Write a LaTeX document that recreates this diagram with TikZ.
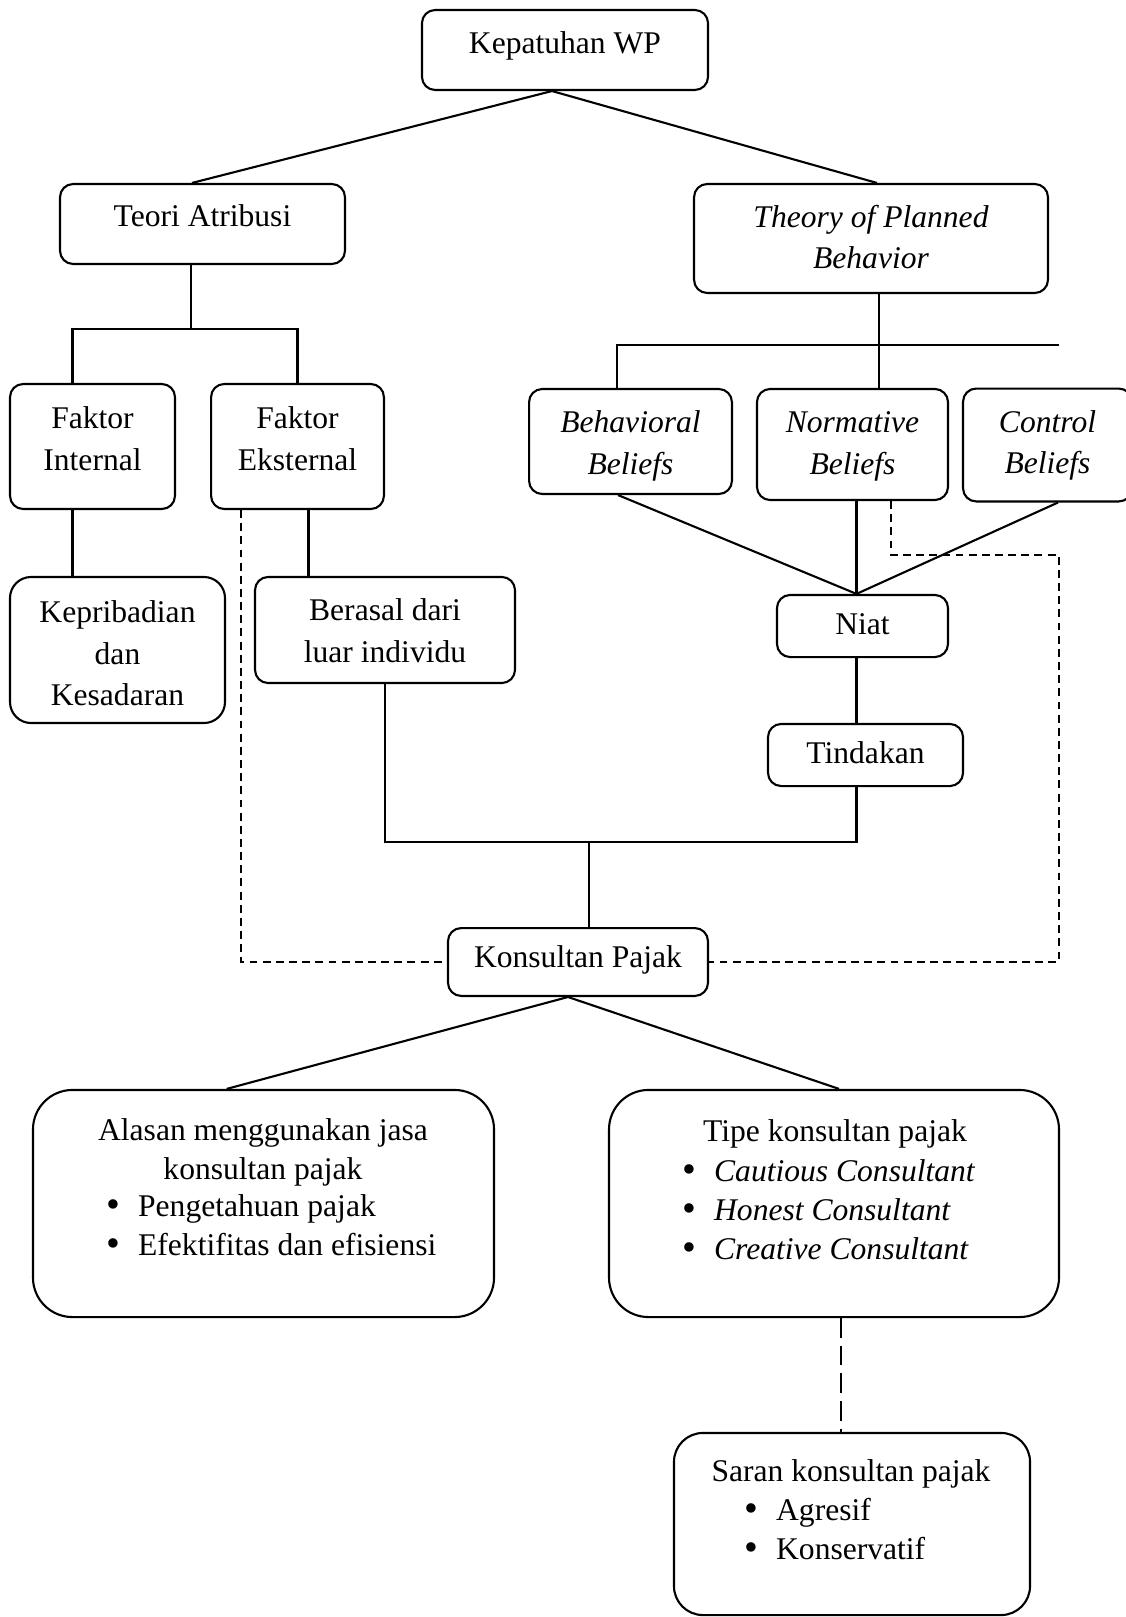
\documentclass[tikz,border=0pt]{standalone}
\usepackage{fontspec}
\setmainfont{Liberation Serif}
\usepackage{tikz}
\usetikzlibrary{positioning}
\newcommand{\itm}[1]{\makebox[12.2pt][l]{\raisebox{-0.6pt}{\fontsize{15}{0}\selectfont\textbullet}}#1}

\begin{document}
\begin{tikzpicture}[x=0.38pt,y=-0.38pt,thick,
  box/.style={draw,rounded corners=5pt,align=center,inner sep=2pt,
  text depth=0pt,font=\fontsize{12}{15.8}\selectfont},
  it box/.style={box,font=\fontsize{12}{15.8}\selectfont\itshape},
  big box/.style={draw,rounded corners=15pt},
  txt/.style={inner sep=0pt,font=\fontsize{12}{14.8}\selectfont},
  dash line/.style={dash pattern=on 3pt off 2pt},
  long dash/.style={dash pattern=on 7.5pt off 3pt}]

  \useasboundingbox (0,0) rectangle (1125,1617);

  \node[box,minimum width=108.7pt,minimum height=30.4pt,text height=2.6pt] (kep) at (565,50) {Kepatuhan WP};
  \node[box,minimum width=108.3pt,minimum height=30.4pt,text height=2pt] (teori) at (202.5,224) {Teori Atribusi};
  \node[it box,minimum width=134.5pt,minimum height=41.4pt,text height=22.9pt] (tpb) at (871,238.5) {Theory of Planned\\Behavior};
  \node[box,minimum width=62.7pt,minimum height=47.5pt,text height=17.9pt] (fint) at (92.5,446.5) {Faktor\\Internal};
  \node[box,minimum width=65.7pt,minimum height=47.5pt,text height=17.9pt] (feks) at (297.5,446.5) {Faktor\\Eksternal};
  \node[it box,minimum width=77.1pt,minimum height=39.9pt,text height=25.1pt] (behav) at (630.5,441.5) {Behavioral\\Beliefs};
  \node[it box,minimum width=72.6pt,minimum height=42.2pt,text height=22.8pt] (norm) at (852.5,444.5) {Normative\\Beliefs};
  \node[it box,minimum width=64.2pt,minimum height=42.9pt,text height=22pt] (ctrl) at (1047.5,445) {Control\\Beliefs};
  \node[box,rounded corners=8pt,minimum width=81.7pt,minimum height=55.5pt,text height=42.3pt] (kepr) at (117.5,650) {Kepribadian\\dan\\Kesadaran};
  \node[box,minimum width=98.8pt,minimum height=40.3pt,text height=24.7pt] (beras) at (385,630) {Berasal dari\\luar individu};
  \node[box,minimum width=65pt,minimum height=23.6pt,text height=6.1pt] (niat) at (862.5,626) {Niat};
  \node[box,minimum width=74.1pt,minimum height=23.6pt,text height=6.6pt] (tind) at (865.5,755) {Tindakan};
  \node[box,minimum width=98.8pt,minimum height=25.8pt,text height=4.3pt] (kons) at (578,962) {Konsultan Pajak};
  \node[big box,minimum width=175.2pt,minimum height=86.3pt] (alasan) at (263.5,1203.5) {};
  \node[big box,minimum width=171pt,minimum height=86.3pt] (tipe) at (834,1203.5) {};
  \node[big box,rounded corners=11pt,minimum width=135.3pt,minimum height=69.2pt] (saran) at (852,1524) {};

  \node[txt,align=center,anchor=base] (alasan title) at (263,1179) {Alasan menggunakan jasa\\konsultan pajak};
  \node[txt,align=left,anchor=base west] (alasan list) at (105,1255) {\itm{Pengetahuan pajak}\\\itm{Efektifitas dan efisiensi}};
  \node[txt,anchor=base] (tipe title) at (835,1141) {Tipe konsultan pajak};
  \node[txt,align=left,anchor=base west] (tipe list) at (681,1259) {\itm{\textit{Cautious Consultant}}\\\itm{\textit{Honest Consultant}}\\\itm{\textit{Creative Consultant}}};
  \node[txt,anchor=base] (saran title) at (851,1481) {Saran konsultan pajak};
  \node[txt,align=left,anchor=base west] (saran list) at (743,1559) {\itm{Agresif}\\\itm{Konservatif}};

  \coordinate (ka) at (552,0);
  \coordinate (kl) at (192,0);
  \coordinate (kr) at (877,0);
  \coordinate (ta) at (191,329);
  \coordinate (fa) at (72.5,329);
  \coordinate (ea) at (308.5,540);
  \coordinate (da) at (241,965);
  \coordinate (pa) at (879,345);
  \coordinate (pb) at (617,345);
  \coordinate (pe) at (1059,345);
  \coordinate (bn) at (618,0);
  \coordinate (cn) at (1058,0);
  \coordinate (dn) at (891,555);
  \coordinate (dr) at (1059,555);
  \coordinate (tj) at (856.5,841.6);
  \coordinate (kj) at (589,841.6);
  \coordinate (ks) at (568,0);
  \coordinate (al) at (226.7,0);
  \coordinate (tr) at (839,0);
  \coordinate (sx) at (841,0);

  \draw (teori.north -| kl) -- (kep.south -| ka) -- (tpb.north -| kr);
  \draw (teori.south -| ta) -- (ta);
  \draw (fint.north -| fa) |- (feks.north |- ta) -- (feks.north);
  \draw (fint.south -| fa) -- (kepr.north -| fa);
  \draw (feks.south -| ea) -- (beras.north -| ea);
  \draw[dash line] (feks.south -| da) |- (kons.west);

  \draw (tpb.south -| pa) -- (norm.north -| pa);
  \draw (behav.north -| pb) |- (pe);
  \draw (behav.south -| bn) -- (niat.north -| tj);
  \draw (norm.south -| tj) -- (niat.north -| tj);
  \draw (ctrl.south -| cn) -- (niat.north -| tj);
  \draw[dash line] (norm.south -| dn) |- (dr) |- (kons.east);
  \draw (niat.south -| tj) -- (tind.north -| tj);

  \draw (beras.south) |- (tj) -- (tind.south -| tj);
  \draw (kj) -- (kons.north -| kj);
  \draw (alasan.north -| al) -- (kons.south -| ks) -- (tipe.north -| tr);
  \draw[long dash] (tipe.south -| sx) -- (saran.north -| sx);

\end{tikzpicture}
\end{document}
